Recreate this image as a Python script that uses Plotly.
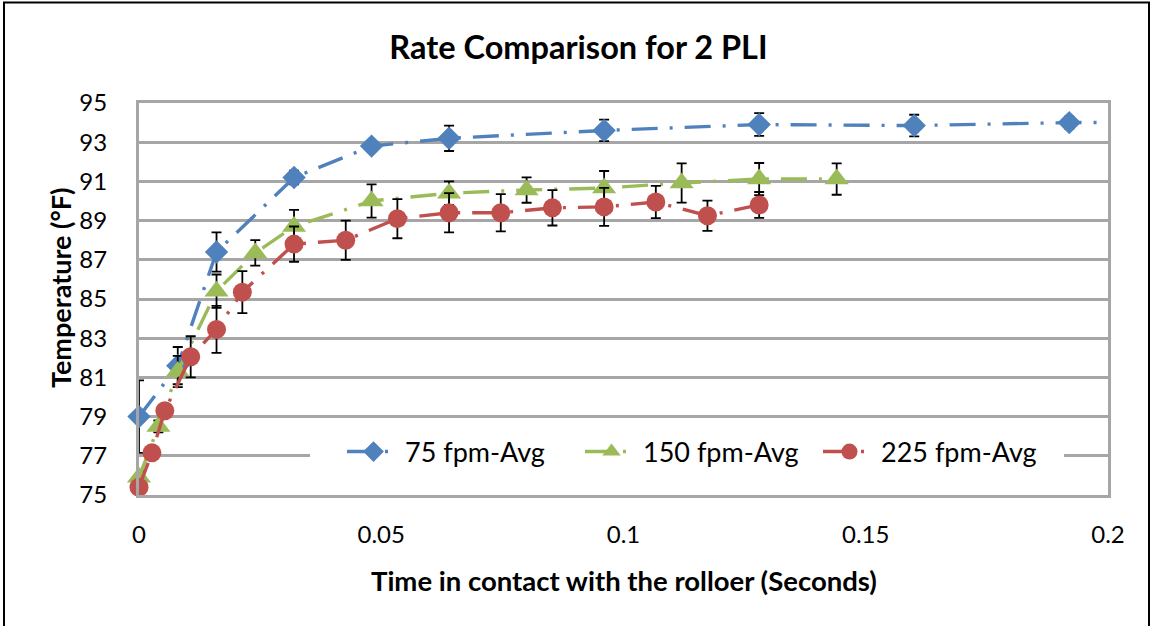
import plotly.graph_objects as go

# ---- data ----
t75 = [0, 0.008, 0.016, 0.032, 0.048, 0.064, 0.096, 0.128, 0.160, 0.192, 0.224]
temp75 = [79.0, 81.6, 87.4, 91.2, 92.8, 93.2, 93.6, 93.9, 93.85, 94.0, 94.05]
err75 = [1.85, 0.95, 1.0, 0.35, 0.2, 0.65, 0.55, 0.58, 0.55, 0.3, 0.3]

t150 = [0, 0.004, 0.008, 0.016, 0.024, 0.032, 0.048, 0.064, 0.080, 0.096, 0.112, 0.128, 0.144]
temp150 = [75.9, 78.5, 81.3, 85.4, 87.35, 88.7, 90.0, 90.4, 90.56, 90.66, 90.92, 91.12, 91.12]
err150 = [0.3, 0.3, 0.8, 0.85, 0.65, 0.85, 0.85, 0.6, 0.65, 0.87, 1.0, 0.82, 0.8]

t225 = [0, 0.00267, 0.00533, 0.01067, 0.016, 0.02133, 0.032, 0.04267, 0.05333,
        0.064, 0.07467, 0.08533, 0.096, 0.10667, 0.11733, 0.128]
temp225 = [75.4, 77.15, 79.3, 82.05, 83.45, 85.35, 87.8, 88.0, 89.1,
           89.4, 89.4, 89.65, 89.7, 89.95, 89.25, 89.8]
err225 = [0.2, 0.3, 0.3, 1.05, 1.2, 1.07, 0.9, 1.0, 1.0,
          1.0, 0.95, 0.9, 0.97, 0.82, 0.77, 0.66]

names = ["75 fpm-Avg", "150 fpm-Avg", "225 fpm-Avg"]
colors = ["#4F81BD", "#9BBB59", "#C0504D"]
symbols = ["diamond", "triangle-up", "circle"]
sizes = [18, 21, 19]

FONT = "Lato"
DASH = "26px,12px,3px,12px"

fig = go.Figure()
for t, y, e, n, c, s, sz in zip([t75, t150, t225], [temp75, temp150, temp225],
                                [err75, err150, err225], names, colors, symbols, sizes):
    fig.add_trace(go.Scatter(
        x=t, y=y, name=n, mode="lines+markers",
        line=dict(color=c, width=3.4, dash=DASH),
        marker=dict(symbol=s, size=sz, color=c, line=dict(width=0)),
        error_y=dict(type="data", array=e, visible=True, color="black",
                     thickness=1.8, width=5),
        cliponaxis=False,
    ))

L, R, T, B = 139, 49, 103, 131
W, H = 1157, 626
pw, ph = W - L - R, H - T - B

def px_x(x):
    return (x - L) / pw

def px_y(y):
    return (H - B - y) / ph

fig.update_layout(
    width=W, height=H,
    margin=dict(l=L, r=R, t=T, b=B),
    paper_bgcolor="white", plot_bgcolor="white",
    font=dict(family=FONT, color="black"),
    title=dict(text="Rate Comparison for 2 PLI", x=0.5, xanchor="center",
               y=1 - 48 / H, yanchor="middle", yref="container",
               font=dict(family=FONT, size=32.5, weight="bold", color="black")),
    showlegend=True,
    legend=dict(orientation="h", x=px_x(342), xanchor="left",
                y=px_y(452), yanchor="middle",
                bgcolor="white", borderwidth=0,
                font=dict(family=FONT, size=27, color="black"),
                itemwidth=53, entrywidth=170, entrywidthmode="pixels",
                tracegroupgap=0),
    xaxis=dict(range=[0, 0.2], dtick=0.05, tick0=0,
               showgrid=False, zeroline=False,
               showline=True, mirror=True, linecolor="#A6A6A6", linewidth=3,
               ticks="", ticklabelstandoff=16,
               tickfont=dict(family=FONT, size=24, color="black")),
    yaxis=dict(range=[75, 95], dtick=2, tick0=75,
               showgrid=True, gridcolor="#A6A6A6", gridwidth=2.6,
               zeroline=False,
               showline=True, mirror=True, linecolor="#A6A6A6", linewidth=3,
               ticks="", ticklabelstandoff=24,
               tickfont=dict(family=FONT, size=24, color="black")),
    annotations=[
        dict(text="Time in contact with the rolloer (Seconds)", xref="paper", yref="paper",
             x=px_x(624), y=px_y(580), xanchor="center", yanchor="middle", showarrow=False,
             font=dict(family=FONT, size=27.5, weight="bold", color="black")),
        dict(text="Temperature (°F)", xref="paper", yref="paper",
             x=px_x(60), y=px_y(288), xanchor="center", yanchor="middle", showarrow=False,
             textangle=-90,
             font=dict(family=FONT, size=27, weight="bold", color="black")),
    ],
    shapes=[
        dict(type="rect", xref="paper", yref="paper",
             x0=px_x(4), x1=px_x(1149), y0=px_y(700), y1=px_y(2.5),
             line=dict(color="black", width=2), fillcolor="rgba(0,0,0,0)", layer="below"),
        dict(type="rect", xref="paper", yref="paper",
             x0=px_x(310), x1=px_x(1064), y0=px_y(466), y1=px_y(438),
             line=dict(width=0), fillcolor="white", layer="above"),
    ],
)

fig.write_html("out.html")
